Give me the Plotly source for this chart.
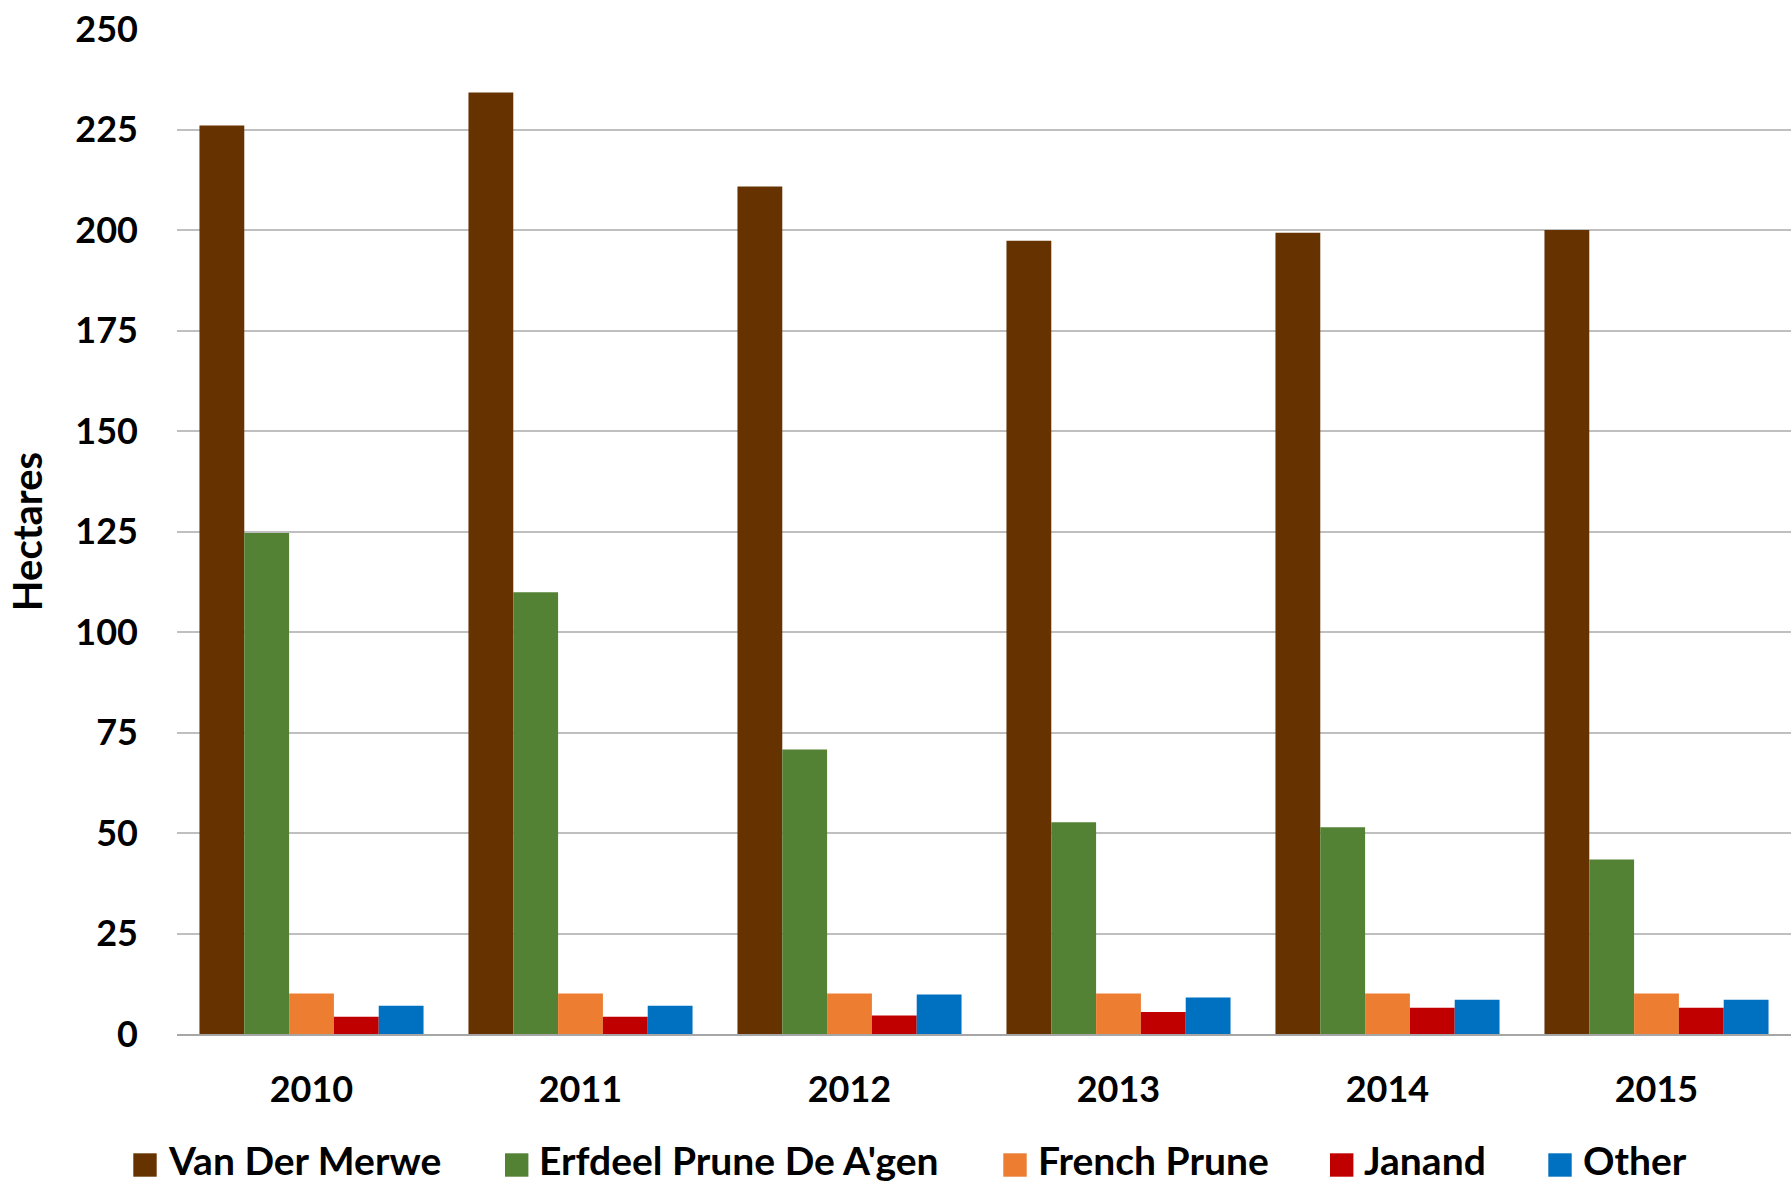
import plotly.graph_objects as go

years = ["2010", "2011", "2012", "2013", "2014", "2015"]
van_der_merwe = [226, 234.2, 210.8, 197.3, 199.3, 200]
erfdeel = [124.6, 109.9, 70.8, 52.7, 51.4, 43.4]
french_prune = [10.1, 10.1, 10.1, 10.1, 10.1, 10.1]
janand = [4.3, 4.3, 4.6, 5.5, 6.5, 6.5]
other = [7.0, 7.0, 9.8, 9.1, 8.5, 8.5]

series_names = ["Van Der Merwe", "Erfdeel Prune De A'gen", "French Prune", "Janand", "Other"]
series_values = [van_der_merwe, erfdeel, french_prune, janand, other]
colors = ["#663300", "#548235", "#ED7D31", "#C00000", "#0070C0"]

FONT = "Lato"
W, H = 1791, 1184
ML, MR, MT, MB = 177, 0, 29, 150
PW, PH = W - ML - MR, H - MT - MB

fig = go.Figure()
for name, vals, col in zip(series_names, series_values, colors):
    fig.add_trace(go.Bar(
        x=years, y=vals, name=name, showlegend=False,
        marker=dict(color=col, line=dict(width=0)),
    ))

# Legend (layout swatches + text, positioned like the reference)
legend_left_px = [133.3, 505, 1003.3, 1330, 1548.3]
sw = 23.4
sw_top, sw_bot = 1153.3, 1176.7
shapes = []
annotations = []
def px_x(x):
    return (x - ML) / PW
def px_y(y):
    return (H - MB - y) / PH
for name, col, lx in zip(series_names, colors, legend_left_px):
    shapes.append(dict(type="rect", xref="paper", yref="paper",
                       x0=px_x(lx), x1=px_x(lx + sw), y0=px_y(sw_bot), y1=px_y(sw_top),
                       fillcolor=col, line=dict(width=0)))
    annotations.append(dict(text=name, xref="paper", yref="paper",
                            x=px_x(lx + sw + 10), y=px_y(H),
                            xanchor="left", yanchor="bottom", showarrow=False,
                            borderpad=0,
                            font=dict(family=FONT, size=39, color="black", weight="bold")))

fig.update_layout(
    width=W, height=H,
    margin=dict(l=ML, r=MR, t=MT, b=MB),
    plot_bgcolor="white", paper_bgcolor="white",
    barmode="group", bargap=0.167, bargroupgap=0,
    font=dict(family=FONT, size=36, color="black"),
    showlegend=False,
    shapes=shapes, annotations=annotations,
)
fig.update_yaxes(
    range=[0, 250], dtick=25, tick0=0,
    showgrid=True, gridcolor="#BFBFBF", gridwidth=1.5,
    zeroline=False, showline=False, ticks="",
    ticklabelstandoff=38,
    tickfont=dict(family=FONT, size=36, color="black", weight="bold"),
    title=dict(text="Hectares", standoff=20,
               font=dict(family=FONT, size=40, color="black", weight="bold")),
)
fig.update_xaxes(
    showgrid=False, zeroline=False, showline=True, linecolor="#A6A6A6", linewidth=2,
    ticks="", ticklabelstandoff=23,
    tickfont=dict(family=FONT, size=36, color="black", weight="bold"),
)

fig.write_html("out.html", config={"displayModeBar": False},
               post_script="document.body.style.margin='0';")
